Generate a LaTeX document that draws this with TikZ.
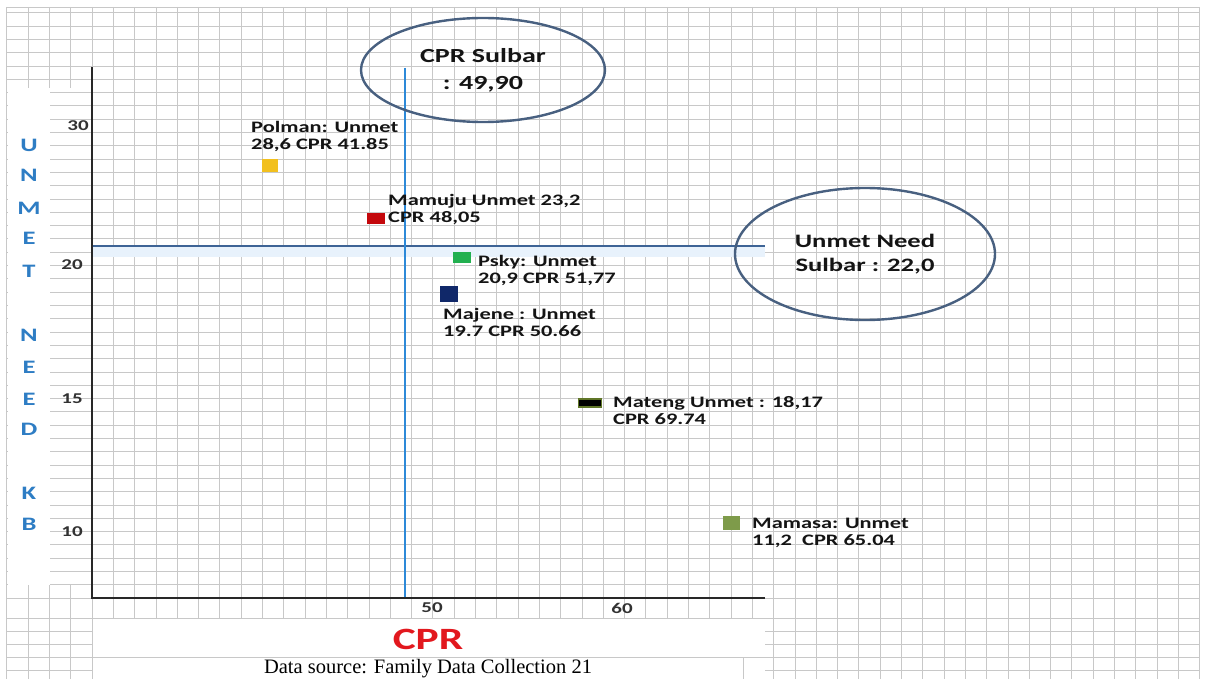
\documentclass[tikz,border=0pt]{standalone}
\usepackage{fontspec}
\setmainfont{Liberation Serif}
\newfontfamily\lbl[FakeStretch=1.4]{Carlito}
\usetikzlibrary{shapes.geometric}
\definecolor{gridc}{RGB}{200,200,200}
\definecolor{axisc}{RGB}{40,40,40}
\definecolor{vblue}{RGB}{45,137,216}
\definecolor{hblue}{RGB}{62,100,150}
\definecolor{bandc}{RGB}{232,242,252}
\definecolor{ellc}{RGB}{72,96,128}
\definecolor{letc}{RGB}{46,125,196}
\definecolor{cprred}{RGB}{226,24,30}
\definecolor{txtc}{RGB}{20,20,20}
\definecolor{tickc}{RGB}{50,50,50}
\definecolor{polc}{RGB}{242,192,30}
\definecolor{mamc}{RGB}{196,8,12}
\definecolor{pskc}{RGB}{34,176,80}
\definecolor{majc}{RGB}{16,40,105}
\definecolor{matborder}{RGB}{96,118,40}
\definecolor{msac}{RGB}{126,155,74}
\begin{document}
\begin{tikzpicture}[x=1pt,y=-1pt,
  gridline/.style={draw=gridc, line width=0.8pt},
  axisline/.style={draw=axisc, line width=2pt},
  cprline/.style={draw=vblue, line width=2.6pt},
  unmetline/.style={draw=hblue, line width=1.8pt},
  bubble/.style={ellipse, draw=ellc, line width=2.4pt, inner sep=0pt, align=center, text=txtc},
  lab/.style={anchor=west, inner sep=0pt, align=left, text=txtc, font=\lbl\bfseries\fontsize{16}{17}\selectfont},
  tick/.style={inner sep=0pt, text=tickc, font=\lbl\bfseries\fontsize{15}{15}\selectfont},
  yletter/.style={inner sep=0pt, text=letc, font=\lbl\bfseries\fontsize{19}{19}\selectfont},
  marker/.style={rectangle, inner sep=0pt, draw=none}
]
\useasboundingbox (0,0) rectangle (1208,679);
\fill[white] (0,0) rectangle (1208,679);
% spreadsheet grid
\foreach \k in {-4,...,52}{
  \pgfmathsetmacro\gx{92+21.3*\k}
  \ifnum\k=-1
    \draw[gridline] (\gx,7) -- (\gx,88);
    \draw[gridline] (\gx,585) -- (\gx,679);
  \else
    \draw[gridline] (\gx,7) -- (\gx,679);
  \fi
}
\foreach \k in {0,...,44}{
  \draw[gridline] (7,{598-13.3*\k}) -- (1200,{598-13.3*\k});
}
\draw[gridline] (7,7) -- (1200,7);
\foreach \yy in {618,631,644,657,670}{
  \draw[gridline] (7,\yy) -- (1200,\yy);
}
% white areas
\fill[white] (8,88) rectangle (49.5,585);
\fill[white] (93,618.5) rectangle (765,679);
\draw[gridline] (93,657) -- (765,657);
\draw[gridline] (743,657) -- (743,679);
\fill[white] (243,657.5) rectangle (600,679);
\fill[bandc] (93,247.2) rectangle (765,257);

% axes
\coordinate (ytop) at (92,67);
\coordinate (orig) at (92,598);
\coordinate (xend) at (765,598);
\draw[axisline] (ytop) -- (orig) -- (xend);

% reference lines
\coordinate (vtop) at (405,68);
\coordinate (vbot) at (405,597);
\coordinate (hleft) at (93,246);
\coordinate (hright) at (765,246);
\draw[unmetline] (hleft) -- (hright);
\draw[cprline] (vtop) -- (vbot);

% bubbles
\node[bubble, minimum width=244, minimum height=104,
  font=\lbl\bfseries\fontsize{20}{27}\selectfont] (cprs) at (483,70) {CPR Sulbar\\: 49,90};
\node[bubble, minimum width=260, minimum height=132,
  font=\lbl\bfseries\fontsize{19}{24}\selectfont] (unms) at (865,254) {Unmet Need\\Sulbar : 22,0};

% tick labels
\node[tick] (t30) at (78,126) {30};
\node[tick] (t20) at (72,265) {20};
\node[tick] (t15) at (72,399) {15};
\node[tick] (t10) at (72,532) {10};
\node[tick] (t50) at (432,608) {50};
\node[tick] (t60) at (622,608) {60};

% y axis title letters
\foreach \ch/\yy [count=\i] in {U/145,N/175,M/208,E/238,T/271,N/335,E/367,E/399,D/429,K/493,B/524}{
  \node[yletter] (yl\i) at (29,\yy) {\ch};
}

% x axis title and source
\node[inner sep=0pt, text=cprred, font=\lbl\bfseries\fontsize{31}{31}\selectfont] (xlab) at (428,639) {CPR};
\node[inner sep=0pt, anchor=base, font=\fontsize{20.5}{21}\selectfont] (src) at (428,673) {Data source: Family Data Collection 21};

% data markers
\node[marker, fill=polc, minimum width=16, minimum height=13] (polm) at (270,166) {};
\node[marker, fill=mamc, minimum width=18, minimum height=11] (mamm) at (376,219) {};
\node[marker, fill=pskc, minimum width=18, minimum height=11] (pskm) at (462,258) {};
\node[marker, fill=majc, minimum width=18, minimum height=15] (majm) at (449,294) {};
\node[marker, fill=black, draw=matborder, line width=1.2pt, minimum width=23, minimum height=8] (matm) at (590,403) {};
\node[marker, fill=msac, minimum width=17, minimum height=14] (msam) at (731,523) {};

% data labels
\node[lab] (polt) at (251,136.5) {Polman: Unmet\\28,6 CPR 41.85};
\node[lab] (mamt) at (388,209) {Mamuju Unmet 23,2\\CPR 48,05};
\node[lab] (pskt) at (478,270.5) {Psky: Unmet\\20,9 CPR 51,77};
\node[lab] (majt) at (443,322) {Majene : Unmet\\19.7 CPR 50.66};
\node[lab] (matt) at (613,410.5) {Mateng Unmet : 18,17\\CPR 69.74};
\node[lab] (msat) at (752,532.5) {Mamasa: Unmet\\11,2~~CPR 65.04};
\end{tikzpicture}
\end{document}
